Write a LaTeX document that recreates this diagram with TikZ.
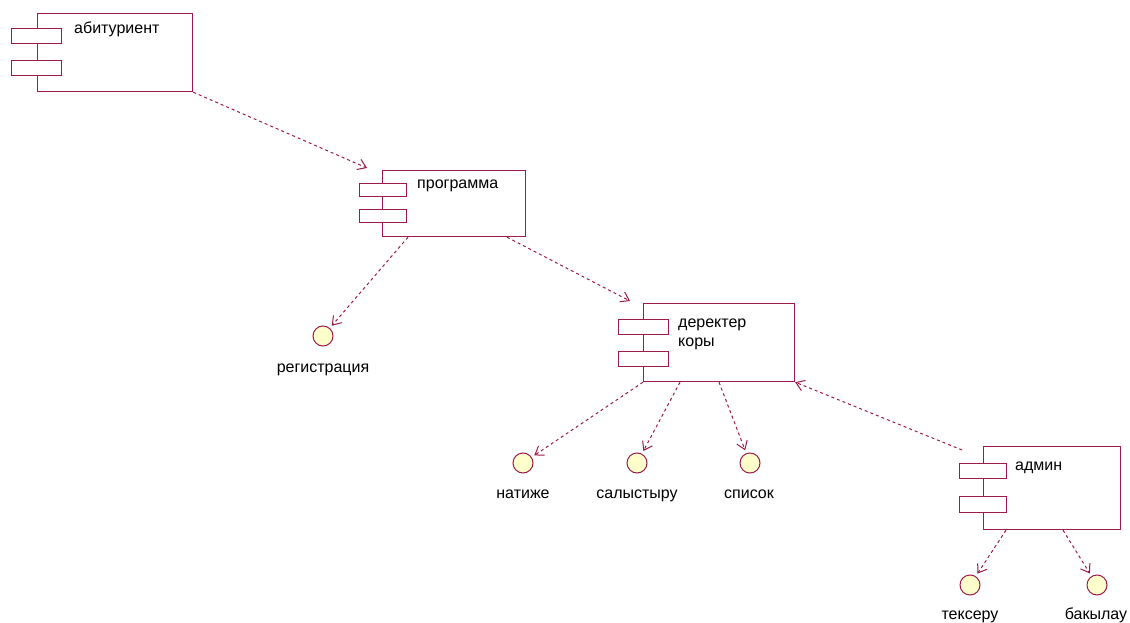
\documentclass[tikz,border=0pt]{standalone}
\usepackage{fontspec}
\setmainfont{Liberation Sans}
\usetikzlibrary{arrows.meta,calc}
\definecolor{umlline}{HTML}{9E1A4B}
\definecolor{ifill}{HTML}{FFFFCC}
\begin{document}
\begin{tikzpicture}[x=1pt,y=-1pt,
  comp/.style={draw=umlline, line width=1.2pt, fill=white, rectangle,
    inner sep=0pt, anchor=north west},
  port/.style={draw=umlline, line width=1.2pt, fill=white, rectangle,
    inner sep=0pt, anchor=north west, minimum width=50pt, minimum height=15pt},
  iface/.style={draw=umlline, line width=1pt, fill=ifill, circle,
    inner sep=0pt, minimum size=20pt},
  txt/.style={inner sep=0pt, font=\fontsize{16}{19}\selectfont, text=black},
  dep/.style={draw=umlline, line width=1pt, dash pattern=on 3pt off 3pt,
    -{Straight Barb[length=8pt,width=11pt,line width=1pt]}},
]
\useasboundingbox[fill=white] (0,0) rectangle (1130,623);

% component: абитуриент
\node[comp, minimum width=155pt, minimum height=78pt] (abit) at (37,13) {};
\node[port] (abitA) at (11,28) {};
\node[port] (abitB) at (11,60) {};
\node[txt, anchor=base west] (abitT) at (74,34) {абитуриент};

% component: программа
\node[comp, minimum width=143pt, minimum height=66pt] (prog) at (382,170) {};
\node[port, minimum width=47pt, minimum height=13pt] (progA) at (359,183) {};
\node[port, minimum width=47pt, minimum height=13pt] (progB) at (359,209) {};
\node[txt, anchor=base west] (progT) at (417,188) {программа};

% component: деректер коры
\node[comp, minimum width=151pt, minimum height=78pt] (der) at (643,303) {};
\node[port, minimum width=50pt, minimum height=15pt] (derA) at (618,319) {};
\node[port, minimum width=50pt, minimum height=15pt] (derB) at (618,351) {};
\node[txt, anchor=base west, align=left] (derT) at (678,346) {деректер\\коры};

% component: админ
\node[comp, minimum width=137pt, minimum height=83pt] (adm) at (983,446) {};
\node[port, minimum width=47pt, minimum height=15pt] (admA) at (959,463) {};
\node[port, minimum width=47pt, minimum height=16pt] (admB) at (959,496) {};
\node[txt, anchor=base west] (admT) at (1015,470) {админ};

% interfaces
\node[iface] (reg) at (323,336) {};
\node[txt, anchor=base] (regT) at (323,372) {регистрация};
\node[iface] (nat) at (523,463) {};
\node[txt, anchor=base] (natT) at (523,498.5) {натиже};
\node[iface] (sal) at (637,463) {};
\node[txt, anchor=base] (salT) at (637,498.5) {салыстыру};
\node[iface] (spi) at (750,463) {};
\node[txt, anchor=base] (spiT) at (749,498.5) {список};
\node[iface] (tek) at (970,585) {};
\node[txt, anchor=base] (tekT) at (970,619) {тексеру};
\node[iface] (bak) at (1097,585) {};
\node[txt, anchor=base] (bakT) at (1096,619) {бакылау};

% dependencies
\draw[dep] (abit.south east) -- ($(prog.north west)+(-15,-2)$);
\draw[dep, shorten >=3pt] ($(prog.south west)+(26,0)$) -- (reg);
\draw[dep] ($(prog.south west)+(125,0)$) -- ($(der.north west)+(-13,-2)$);
\draw[dep, shorten >=3pt] (der.south west) -- (nat);
\draw[dep, shorten >=3pt] ($(der.south west)+(37,0)$) -- (sal);
\draw[dep, shorten >=3pt] ($(der.south west)+(76,0)$) -- (spi);
\draw[dep] ($(adm.north west)+(-21,4)$) -- (der.south east);
\draw[dep, shorten >=3pt] ($(adm.south west)+(23,0)$) -- (tek);
\draw[dep, shorten >=3pt] ($(adm.south west)+(80,0)$) -- (bak);
\end{tikzpicture}
\end{document}
